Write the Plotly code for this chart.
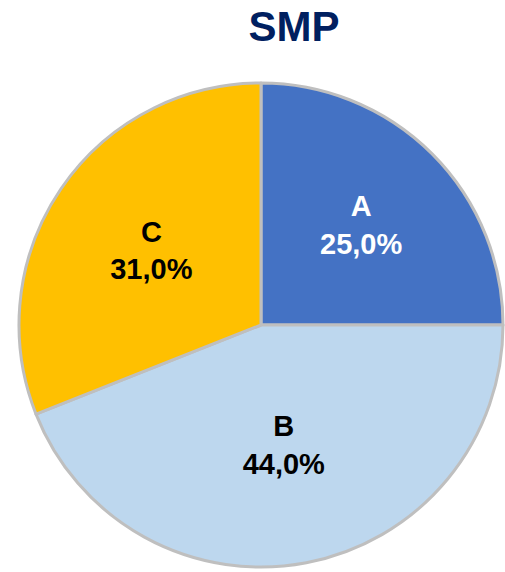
import plotly.graph_objects as go

labels = ['A', 'B', 'C']
values = [25.0, 44.0, 31.0]
colors = ['#4472C4', '#BDD7EE', '#FFC000']
text_colors = ['#FFFFFF', '#000000', '#000000']

fig = go.Figure(go.Pie(
    labels=labels, values=values, sort=False, direction='clockwise', rotation=0,
    marker=dict(colors=colors, line=dict(color='#BFBFBF', width=3)),
    texttemplate='<b>%{label}</b><br><b>%{value:.1f}%</b>',
    textposition='inside', insidetextorientation='horizontal',
    textfont=dict(family='Liberation Sans, Arial', size=29, color=text_colors),
    hoverinfo='label+percent', showlegend=False,
))

fig.update_layout(
    title=dict(text='<b>SMP</b>', x=0.582, xanchor='center', y=0.954, yanchor='middle',
               font=dict(family='Liberation Sans, Arial', size=42, color='#002060')),
    separators=',.',
    width=505, height=572,
    margin=dict(l=18, r=1, t=83, b=5),
    paper_bgcolor='white',
)
# drop the default 8px body margin so the figure fills the window
fig.write_html('out.html', config={'displayModeBar': False},
               post_script="document.body.style.margin='0';")
